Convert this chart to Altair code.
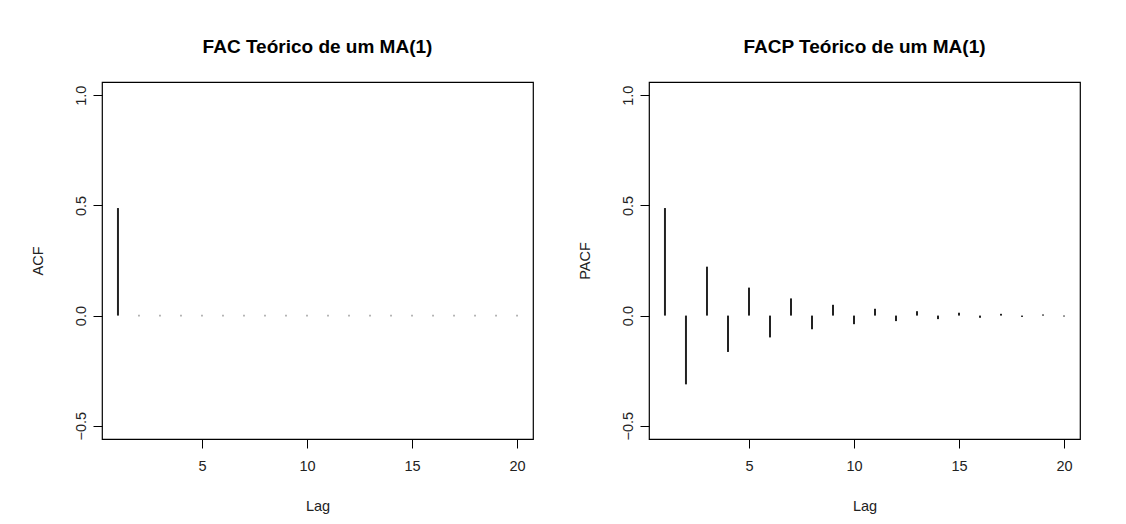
import altair as alt
import pandas as pd

lags = list(range(1, 21))
acf_values = [0.488] + [0.0] * 19
pacf_values = [0.488, -0.312, 0.222, -0.165, 0.127, -0.099, 0.078, -0.062,
               0.049, -0.039, 0.031, -0.025, 0.020, -0.016, 0.013, -0.010,
               0.008, -0.006, 0.005, -0.004]

acf_df = pd.DataFrame({"lag": lags, "value": acf_values, "zero": 0.0})
pacf_df = pd.DataFrame({"lag": lags, "value": pacf_values, "zero": 0.0})

FONT = "Liberation Sans"
W, H = 431, 357
FS = 14.5


def panel(df, title, ytitle):
    x = alt.X("lag:Q", scale=alt.Scale(domain=[0.24, 20.76], nice=False, zero=False),
              axis=alt.Axis(values=[5, 10, 15, 20], title="Lag", grid=False, domain=False,
                            tickSize=9, tickColor="black", labelPadding=11,
                            titlePadding=27, labelFontSize=FS, titleFontSize=FS,
                            titleFontWeight="normal", labelColor="#222", titleColor="#222",
                            labelFont=FONT, titleFont=FONT))
    y_axis = alt.Axis(values=[-0.5, 0.0, 0.5, 1.0], format=".1f", title=ytitle, grid=False,
                      domain=False, tickSize=9, tickColor="black", labelAngle=270,
                      labelAlign="center", labelBaseline="bottom", labelPadding=5,
                      titlePadding=28, labelFontSize=FS, titleFontSize=FS,
                      titleFontWeight="normal", labelColor="#222", titleColor="#222",
                      labelFont=FONT, titleFont=FONT)
    yscale = alt.Scale(domain=[-0.56, 1.06], nice=False, zero=False)
    bars = alt.Chart(df).mark_rule(color="#222", strokeWidth=2, strokeCap="butt").encode(
        x=x,
        y=alt.Y("zero:Q", scale=yscale, axis=y_axis),
        y2="value:Q",
    )
    dots = alt.Chart(df).transform_filter(alt.datum.value == 0).mark_square(
        size=3, color="#aaa", opacity=1
    ).encode(x="lag:Q", y="zero:Q")
    return alt.layer(bars, dots).properties(
        width=W, height=H,
        title=alt.TitleParams(title, fontSize=19, font=FONT, fontWeight="bold",
                              color="black", offset=25, anchor="middle"),
    )


left = panel(acf_df, "FAC Teórico de um MA(1)", "ACF")
right = panel(pacf_df, "FACP Teórico de um MA(1)", "PACF")

chart = alt.hconcat(left, right, spacing=42).properties(
    padding={"left": 29, "top": 37, "right": 10, "bottom": 10},
    background="white",
).configure_view(stroke="black", strokeWidth=1.2)

chart.save("out.html", embed_options={"renderer": "svg", "actions": False})
